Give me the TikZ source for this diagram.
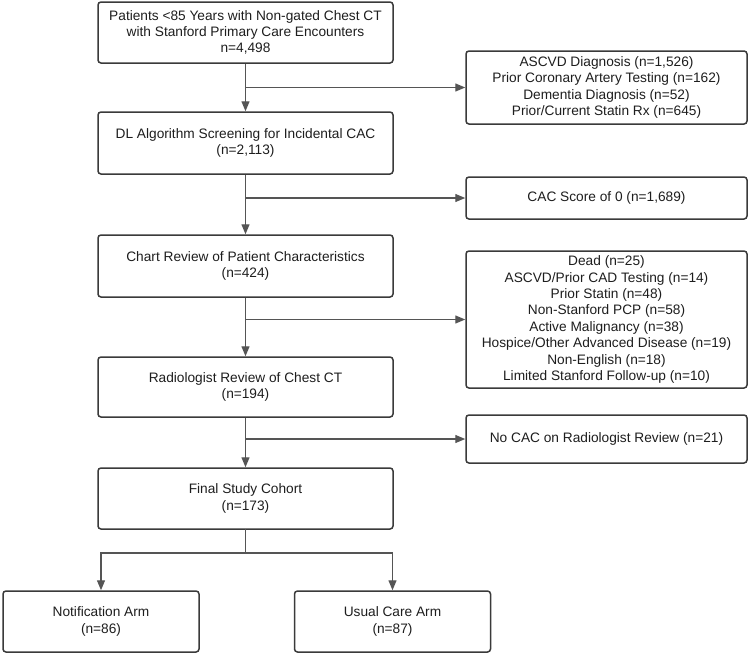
\documentclass[tikz,border=0pt]{standalone}
\usepackage{fontspec}
\setmainfont{Liberation Sans}
\usetikzlibrary{arrows.meta}
\definecolor{boxline}{HTML}{3A3A3A}
\definecolor{arrline}{HTML}{555555}
\definecolor{txt}{HTML}{1E1E1E}
\begin{document}
\begin{tikzpicture}[x=1pt,y=-1pt,
  box/.style={draw=boxline, line width=1.5pt, rounded corners=3pt, align=center,
    inner sep=0pt, text=txt, font=\fontsize{13.7}{16.4}\selectfont},
  mainbox/.style={box, minimum width=295pt},
  sidebox/.style={box, minimum width=281pt},
  armbox/.style={box, minimum width=196pt, minimum height=61pt},
  arr/.style={draw=arrline, line width=1.3pt, -{Triangle[length=10pt,width=8pt]}},
  ln/.style={draw=arrline, line width=1.3pt, line cap=rect}]
\useasboundingbox (0,0) rectangle (750,654);
\fill[white] (0,0) rectangle (750,654);

\node[mainbox, minimum height=61pt] (top) at (245.5,32.5) {Patients <85 Years with Non-gated Chest CT\\with Stanford Primary Care Encounters\\n=4,498};
\node[sidebox, minimum height=73pt] (ex1) at (606.5,87.5) {ASCVD Diagnosis (n=1,526)\\Prior Coronary Artery Testing (n=162)\\Dementia Diagnosis (n=52)\\Prior/Current Statin Rx (n=645)};
\node[mainbox, minimum height=62pt] (dl) at (245.5,143) {DL Algorithm Screening for Incidental CAC\\(n=2,113)};
\node[sidebox, minimum height=42pt] (ex2) at (606.5,198) {CAC Score of 0 (n=1,689)};
\node[mainbox, minimum height=62pt] (chart) at (245.5,266) {Chart Review of Patient Characteristics\\(n=424)};
\node[sidebox, minimum height=137pt] (ex3) at (606.5,319.5) {Dead (n=25)\\ASCVD/Prior CAD Testing (n=14)\\Prior Statin (n=48)\\Non-Stanford PCP (n=58)\\Active Malignancy (n=38)\\Hospice/Other Advanced Disease (n=19)\\Non-English (n=18)\\Limited Stanford Follow-up (n=10)};
\node[mainbox, minimum height=60pt] (rad) at (245.5,387) {Radiologist Review of Chest CT\\(n=194)};
\node[sidebox, minimum height=48pt] (ex4) at (606.5,439) {No CAC on Radiologist Review (n=21)};
\node[mainbox, minimum height=61pt] (final) at (245.5,498.5) {Final Study Cohort\\(n=173)};
\node[armbox] (notif) at (101,621.5) {Notification Arm\\(n=86)};
\node[armbox] (usual) at (392.5,621.5) {Usual Care Arm\\(n=87)};

\coordinate (j1) at (245.5,87.5);
\coordinate (j2) at (245.5,198);
\coordinate (j3) at (245.5,319.5);
\coordinate (j4) at (245.5,439);
\coordinate (j5) at (245.5,553);
\coordinate (cl) at (notif.north |- j5);
\coordinate (cr) at (usual.north |- j5);

\draw[arr] (top.south) -- (dl.north);
\draw[arr] (j1) -- (ex1.west);
\draw[arr] (dl.south) -- (chart.north);
\draw[arr] (j2) -- (ex2.west);
\draw[arr] (chart.south) -- (rad.north);
\draw[arr] (j3) -- (ex3.west);
\draw[arr] (rad.south) -- (final.north);
\draw[arr] (j4) -- (ex4.west);
\draw[ln] (final.south) -- (j5);
\draw[ln] (cl) -- (cr);
\draw[arr] (cl) -- (notif.north);
\draw[arr] (cr) -- (usual.north);
\end{tikzpicture}
\end{document}
